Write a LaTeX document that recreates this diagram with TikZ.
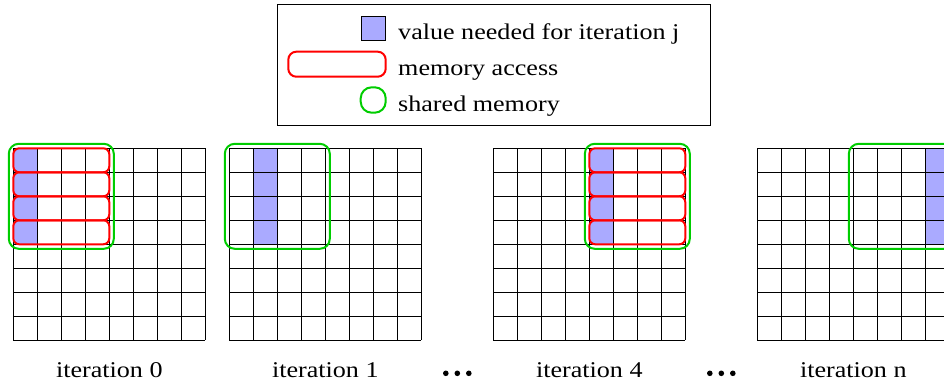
\documentclass[tikz,border=0pt]{standalone}
\usepackage{fontspec}
\setmainfont[FakeStretch=1.16]{Liberation Serif}
\definecolor{cellblue}{RGB}{170,170,255}
\definecolor{accred}{RGB}{255,0,0}
\definecolor{shgreen}{RGB}{0,205,0}
\begin{document}
\begin{tikzpicture}[x=1pt,y=-1pt,
  gridline/.style={line width=1.1pt},
  needed/.style={fill=cellblue},
  access/.style={draw=accred,line width=2pt,rounded corners=6pt},
  shared/.style={draw=shgreen,line width=2pt,rounded corners=10pt},
  lbl/.style={font=\fontsize{22.5}{26}\selectfont,inner sep=0pt}]

\path[use as bounding box] (0,0) rectangle (944,385);

% four 8x8 grids: left edge / needed column / memory access flag / first shared column
\begin{scope}
\clip (0,0) rectangle (944,385);
\foreach \gx/\nc/\acc/\sc in {13.3/0/1/0, 229.3/1/0/0, 493.3/4/1/4, 757.3/7/0/4} {
  \fill[needed] (\gx+\nc*24,148.3) rectangle ++(24,96);
  \foreach \k in {0,...,8} {
    \draw[gridline] (\gx+\k*24,148.3) -- ++(0,192);
    \draw[gridline] (\gx,148.3+\k*24) -- ++(192,0);
  }
  \ifnum\acc=1
    \foreach \r in {0,...,3}
      \draw[access] (\gx+\sc*24,148.3+\r*24) rectangle ++(96,24);
  \fi
  \draw[shared] (\gx+\sc*24-4.5,148.3-4.5) rectangle ++(105,105);
}
\end{scope}

% captions under the grids
\node[lbl,anchor=base] (it0) at (109.3,377) {iteration 0};
\node[lbl,anchor=base] (it1) at (325.3,377) {iteration 1};
\node[lbl,anchor=base] (it4) at (589.3,377) {iteration 4};
\node[lbl,anchor=base] (itn) at (853.3,377) {iteration n};

% ellipses between the grids
\foreach \cx in {457.3,721.3} {
  \foreach \d in {-11.5,0,11.5}
    \fill (\cx+\d,373.3) circle (2.8);
}

% legend
\draw[line width=1pt] (277.3,4.7) rectangle (710,125);
\filldraw[fill=cellblue,draw=black,line width=0.8pt] (361.7,16) rectangle (385.7,40.3);
\draw[access,rounded corners=8pt] (288.3,51.7) rectangle (385.7,76.7);
\draw[shared,rounded corners=11pt] (360.7,87.3) rectangle (385.7,112.7);
\node[lbl,anchor=base west] (lg1) at (398,40) {value needed for iteration j};
\node[lbl,anchor=base west] (lg2) at (398,76) {memory access};
\node[lbl,anchor=base west] (lg3) at (398,111.7) {shared memory};
\end{tikzpicture}
\end{document}
